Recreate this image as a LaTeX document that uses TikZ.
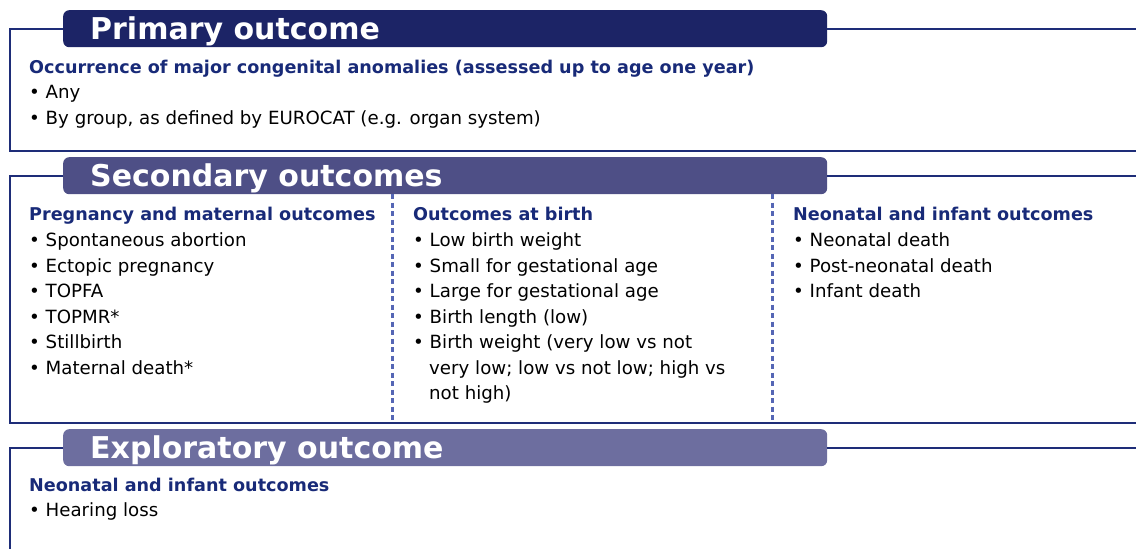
\documentclass[tikz,border=0pt]{standalone}
\usepackage{fontspec}
\setmainfont{DejaVu Sans}

\definecolor{navyhead}{HTML}{1C2466}
\definecolor{midhead}{HTML}{4E4F86}
\definecolor{lighthead}{HTML}{6D6E9F}
\definecolor{frameblue}{HTML}{1E2D78}
\definecolor{subblue}{HTML}{182A78}
\definecolor{dotblue}{HTML}{5566B5}

\tikzset{
  frameline/.style={draw=frameblue, line width=2.2pt},
  headbox/.style={rounded corners=6pt, anchor=north west, minimum width=764pt, minimum height=37pt, inner sep=0pt},
  headtext/.style={anchor=base west, text=white, font=\fontsize{30}{36}\selectfont\bfseries, inner sep=0pt},
  subhead/.style={anchor=base west, text=subblue, font=\fontsize{17.6}{22}\selectfont\bfseries, inner sep=0pt},
  itemtext/.style={anchor=base west, font=\fontsize{18.2}{25.5}\selectfont, inner sep=0pt},
  divider/.style={draw=dotblue, line width=3pt, dash pattern=on 5pt off 3.5pt},
}

\begin{document}
\begin{tikzpicture}[x=1pt,y=-1pt]
  \pgfmathsetmacro{\fl}{10}
  \pgfmathsetmacro{\hl}{63}
  \pgfmathsetmacro{\ls}{25.5}
  \useasboundingbox (0,0) rectangle (1136,549);
  \coordinate (farend) at (1145,0);
  \coordinate (leftend) at (\fl,0);

  % primary outcome
  \node[headbox, fill=navyhead] (primbox) at (\hl,10) {};
  \draw[frameline] (primbox.east) -- (primbox.east -| farend);
  \draw[frameline] (primbox.west) -| (leftend |- 0,151) -- (farend |- 0,151);
  \node[headtext] (primtitle) at (90,39) {Primary outcome};
  \node[subhead] (primsub) at (29,73) {Occurrence of major congenital anomalies (assessed up to age one year)};
  \foreach \t [count=\i] in {Any, {By group, as defined by EUROCAT (e.g. organ system)}}
    \node[itemtext] (prim\i) at (29, 73+\i*\ls) {\textbullet\ \t};

  % secondary outcomes
  \node[headbox, fill=midhead] (secbox) at (\hl,157) {};
  \draw[frameline] (secbox.east) -- (secbox.east -| farend);
  \draw[frameline] (secbox.west) -| (leftend |- 0,423) -- (farend |- 0,423);
  \node[headtext] (sectitle) at (90,186) {Secondary outcomes};
  \draw[divider] (392,194) -- (392,422);
  \draw[divider] (772,194) -- (772,422);

  \node[subhead] (pregsub) at (29,220) {Pregnancy and maternal outcomes};
  \foreach \t [count=\i] in {Spontaneous abortion, Ectopic pregnancy, TOPFA, TOPMR*, Stillbirth, Maternal death*}
    \node[itemtext] (preg\i) at (29, 221+\i*\ls) {\textbullet\ \t};

  \node[subhead] (birthsub) at (413,220) {Outcomes at birth};
  \foreach \t [count=\i] in {Low birth weight, Small for gestational age, Large for gestational age, Birth length (low), Birth weight (very low vs not}
    \node[itemtext] (birth\i) at (413, 221+\i*\ls) {\textbullet\ \t};
  \node[itemtext] (birthcont1) at (429, 221+6*\ls) {very low; low vs not low; high vs};
  \node[itemtext] (birthcont2) at (429, 221+7*\ls) {not high)};

  \node[subhead] (neosub) at (793,220) {Neonatal and infant outcomes};
  \foreach \t [count=\i] in {Neonatal death, Post-neonatal death, Infant death}
    \node[itemtext] (neo\i) at (793, 221+\i*\ls) {\textbullet\ \t};

  % exploratory outcome
  \node[headbox, fill=lighthead] (expbox) at (\hl,429) {};
  \draw[frameline] (expbox.east) -- (expbox.east -| farend);
  \draw[frameline] (expbox.west) -| (leftend |- 0,560);
  \node[headtext] (exptitle) at (90,458) {Exploratory outcome};
  \node[subhead] (expsub) at (29,491) {Neonatal and infant outcomes};
  \node[itemtext] (exp1) at (29, 491+\ls) {\textbullet\ Hearing loss};
\end{tikzpicture}
\end{document}
